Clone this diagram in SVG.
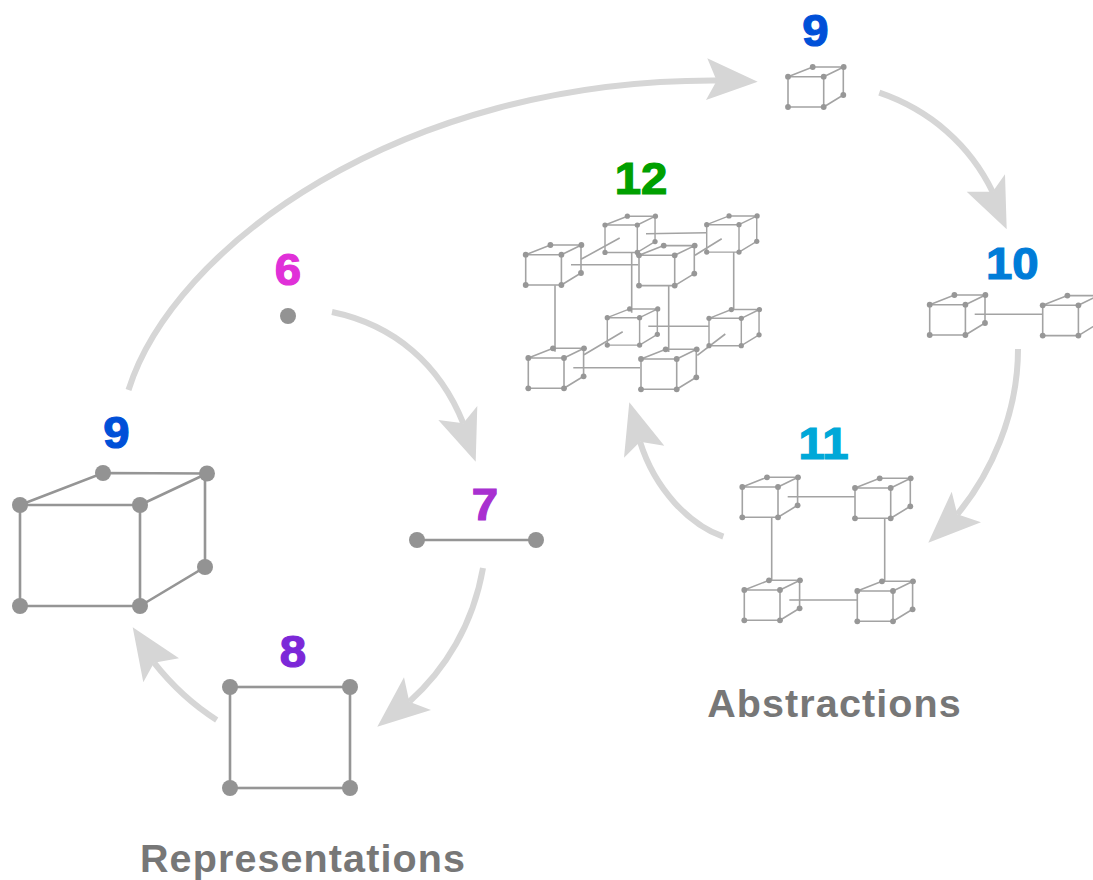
<svg xmlns="http://www.w3.org/2000/svg" xmlns:xlink="http://www.w3.org/1999/xlink" width="1093" height="880" viewBox="0 0 1093 880">
<style>
.shaft{fill:none;stroke:#d6d6d6;stroke-width:6}
.head{fill:#d6d6d6}
.edge{fill:none;stroke:#959595;stroke-width:2.6}
.dot{fill:#939393}
.tedge{fill:none;stroke:#a3a3a3;stroke-width:1.6}
.tdot{fill:#979797}
.num{font-family:"Liberation Sans",Arial,sans-serif;font-weight:700;font-size:43.5px;text-anchor:middle;stroke-width:1.2}
.cap{font-family:"Liberation Sans",Arial,sans-serif;font-weight:700;font-size:39.5px;letter-spacing:1.1px;text-anchor:middle;fill:#777777}
</style>
<defs>
<g id="cube">
<path class="tedge" d="M0,0H35.7V30.3H0ZM0,0L24.7,-9.7H55.7L35.7,0M55.3,-9.7V18.3L35.7,30.3"/>
<g class="tdot"><circle cx="0" cy="0" r="2.9"/><circle cx="35.7" cy="0" r="2.9"/><circle cx="0" cy="30.3" r="2.9"/><circle cx="35.7" cy="30.3" r="2.9"/><circle cx="24.7" cy="-9.7" r="2.9"/><circle cx="55.7" cy="-9.7" r="2.9"/><circle cx="55.3" cy="18.3" r="2.9"/></g>
</g>
</defs>
<rect width="1093" height="880" fill="#ffffff"/>
<g id="connectors">
<path class="shaft" d="M128.5,390C173,248 399,79 717,80.5"/><polygon class="head" points="757.7,81.7 707.3,58.3 716.7,80.7 706,100"/>
<path class="shaft" d="M879.3,92.7C930,110 970,145 992.7,192"/><polygon class="head" points="1006.7,229.3 966.7,191.7 992.7,191.7 1005,174.3"/>
<path class="shaft" d="M332,312C395,325 440,365 463.3,423.3"/><polygon class="head" points="475.7,461.7 438.3,420 463.3,423.3 477.3,406"/>
<path class="shaft" d="M483,568C473,625 445,670 409.3,701.7"/><polygon class="head" points="377.3,726.7 404,677.3 409.3,701.7 431,710"/>
<path class="shaft" d="M216.7,720C190,703 170,683 154,662.7"/><polygon class="head" points="132.7,627.3 179,658.3 154,662.7 143.3,682.3"/>
<path class="shaft" d="M1018,349C1018,415 990,475 957.3,514.3"/><polygon class="head" points="928.3,542.7 951.7,491.7 957.3,514.3 981,522.3"/>
<path class="shaft" d="M723.3,536.7C690,525 655,490 640,441.7"/><polygon class="head" points="629.3,402.3 664.3,445.7 640,441.7 624,457.7"/>
</g>
<g id="node-6"><text class="num" transform="translate(288,284.5) scale(1.09,1)" fill="#e030d8" stroke="#e030d8">6</text><circle class="dot" cx="288" cy="316" r="8"/></g>
<g id="node-7"><text class="num" transform="translate(485,520) scale(1.09,1)" fill="#a830d0" stroke="#a830d0">7</text><path class="edge" d="M417,540H536"/><circle class="dot" cx="417" cy="540" r="8"/><circle class="dot" cx="536" cy="540" r="8"/></g>
<g id="node-8"><text class="num" transform="translate(293,667) scale(1.09,1)" fill="#7c28d8" stroke="#7c28d8">8</text><rect class="edge" x="230" y="687" width="120" height="101"/><circle class="dot" cx="230" cy="687" r="8"/><circle class="dot" cx="350" cy="687" r="8"/><circle class="dot" cx="230" cy="788" r="8"/><circle class="dot" cx="350" cy="788" r="8"/></g>
<g id="node-9-large"><text class="num" transform="translate(116.5,448) scale(1.09,1)" fill="#0050d8" stroke="#0050d8">9</text><path class="edge" d="M20,505H140V606H20ZM20,505L103,473L207,473.5L140,505M205,473.5V567L140,606"/><circle class="dot" cx="20" cy="505" r="8"/><circle class="dot" cx="140" cy="505" r="8"/><circle class="dot" cx="20" cy="606" r="8"/><circle class="dot" cx="140" cy="606" r="8"/><circle class="dot" cx="103" cy="473" r="8"/><circle class="dot" cx="207" cy="473.5" r="8"/><circle class="dot" cx="205" cy="567" r="8"/></g>
<g id="node-9-small"><text class="num" transform="translate(815.5,45.5) scale(1.09,1)" fill="#0050d8" stroke="#0050d8">9</text><use xlink:href="#cube" href="#cube" x="788" y="76.7"/></g>
<g id="node-10"><text class="num" transform="translate(1012.3,279) scale(1.09,1)" fill="#007cd8" stroke="#007cd8">10</text><path class="tedge" d="M974.7,314.3H1042.7"/><use xlink:href="#cube" href="#cube" x="929.7" y="304.7"/><use xlink:href="#cube" href="#cube" x="1042.7" y="305.3"/></g>
<g id="node-11"><text class="num" transform="translate(823.5,459) scale(1.09,1)" fill="#00a8d8" stroke="#00a8d8">11</text><path class="tedge" d="M787.7,496.7H855M771.7,517.7V580M884.7,518.7V581M789.3,600H857"/><use xlink:href="#cube" href="#cube" x="742.3" y="487"/><use xlink:href="#cube" href="#cube" x="855" y="488"/><use xlink:href="#cube" href="#cube" x="744.3" y="590"/><use xlink:href="#cube" href="#cube" x="857.3" y="591"/></g>
<g id="node-12"><text class="num" transform="translate(641,194) scale(1.09,1)" fill="#00a000" stroke="#00a000">12</text><path class="tedge" d="M581,259.3L619.7,238M571,264.7H638.3M646,233.7L706.7,232.7M695,255.3L721.7,238.7M555,285.3V351.7M631.7,252.3V312.7M668.7,286V352M733.7,252V310M584,354.7L622.7,331.7M573.3,367.7H640M648.3,326.3H709M697.3,355.3L725.3,334"/><use xlink:href="#cube" href="#cube" x="525.7" y="254.7"/><use xlink:href="#cube" transform="translate(605,225) scale(.905)" href="#cube"/><use xlink:href="#cube" transform="translate(706.7,224.7) scale(.905)" href="#cube"/><use xlink:href="#cube" href="#cube" x="639" y="255.3"/><use xlink:href="#cube" href="#cube" x="528.3" y="358"/><use xlink:href="#cube" transform="translate(607.3,317.7) scale(.905)" href="#cube"/><use xlink:href="#cube" transform="translate(709,318.3) scale(.905)" href="#cube"/><use xlink:href="#cube" href="#cube" x="641" y="359"/></g>
<text class="cap" x="834.5" y="716.5">Abstractions</text>
<text class="cap" x="303" y="871.5">Representations</text>
</svg>
